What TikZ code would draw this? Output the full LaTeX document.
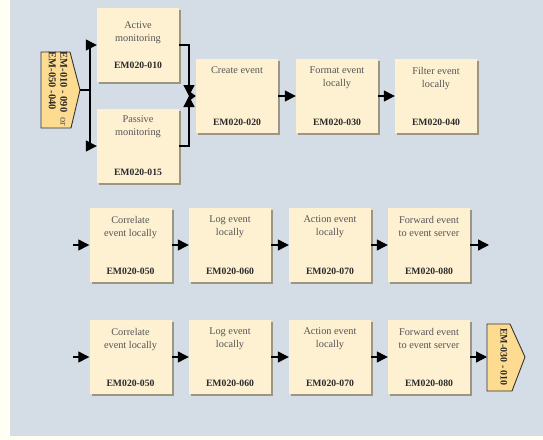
\documentclass[tikz,border=0pt]{standalone}
\usepackage{fontspec}
\setmainfont{Liberation Serif}
\usetikzlibrary{arrows.meta,shadows}
\definecolor{bg}{HTML}{D4DCE6}
\definecolor{cream}{HTML}{FFFFF4}
\definecolor{boxfill}{HTML}{FEF1D2}
\definecolor{shadowc}{HTML}{9C9580}
\definecolor{pent}{HTML}{FDDC92}
\definecolor{txtgray}{HTML}{555555}
\definecolor{codec}{HTML}{2B2B2B}
\begin{document}
\begin{tikzpicture}[x=1pt,y=-1pt,
  box/.style={rectangle, fill=boxfill, minimum width=82pt, minimum height=74pt, inner sep=0pt,
    drop shadow={shadow xshift=2pt, shadow yshift=-2pt, fill=shadowc, opacity=1}},
  ttl/.style={font=\fontsize{10.3}{13}\selectfont, text=txtgray, align=center, anchor=north, inner sep=0pt},
  code/.style={font=\fontsize{9.7}{11}\selectfont\bfseries, text=codec, inner sep=0pt},
  pentst/.style={draw=black!80, fill=pent, line width=0.9pt, line join=miter},
  pentxt/.style={font=\fontsize{10}{11}\selectfont\bfseries, text=codec, inner sep=0pt, rotate=-90},
  ln/.style={draw=black, line width=1.3pt},
  arr/.style={ln, -{Triangle[length=11pt,width=11pt]}},
  arrs/.style={ln, -{Triangle[length=7pt,width=10pt]}}]
\useasboundingbox (0,0) rectangle (543,439);
\fill[cream] (0,0) rectangle (543,439);
\fill[bg] (10,0) rectangle (543,436);

% row 1
\node[box] (A) at (138,45) {};
\node[box] (P) at (138,146) {};
\node[box] (C) at (237,96) {};
\node[box] (F) at (337,96) {};
\node[box] (L) at (436,96) {};
\path (A.north) ++(0,14) node[ttl] (At) {Active\\monitoring};
\path (A.south) ++(0,-17) node[code] (Ac) {EM020-010};
\path (P.north) ++(0,7) node[ttl] (Pt) {Passive\\monitoring};
\path (P.south) ++(0,-11) node[code] (Pc) {EM020-015};
\path (C.north) ++(0,8) node[ttl] (Ct) {Create event};
\path (C.south) ++(0,-11) node[code] (Cc) {EM020-020};
\path (F.north) ++(0,8) node[ttl] (Ft) {Format event\\locally};
\path (F.south) ++(0,-11) node[code] (Fc) {EM020-030};
\path (L.north) ++(0,8) node[ttl] (Lt) {Filter event\\locally};
\path (L.south) ++(0,-11) node[code] (Lc) {EM020-040};

% left pentagon
\draw[pentst] (41,52) -- (70,52) -- (80,90) -- (71,128) -- (41,128) -- cycle;
\coordinate (s) at (80,90);
\node[pentxt, align=left, font=\fontsize{10.5}{11.5}\selectfont\bfseries] (st) at (58,89) {EM-010 - 090\hspace{5pt}\textmd{\textcolor{txtgray}{or}}\\EM-050 -040};
\coordinate (j) at (90,90);
\draw[ln] (s) -- (j);
\draw[arr] (j) |- (A.west);
\draw[arr] (j) |- (P.west);
\coordinate (m) at (189,96);
\draw[arr] (A.east) -| (m);
\draw[arr] (P.east) -| (m);
\draw[arrs] (m) -- (C.west);
\draw[arr] (C.east) -- (F.west);
\draw[arr] (F.east) -- (L.west);

% row 2
\node[box] (B1) at (130.5,245) {};
\node[box] (B2) at (230,245) {};
\node[box] (B3) at (330,245) {};
\node[box] (B4) at (429,245) {};
\path (B1.north) ++(0,8) node[ttl] (B1t) {Correlate\\event locally};
\path (B1.south) ++(0,-11) node[code] (B1c) {EM020-050};
\path (B2.north) ++(0,8) node[ttl] (B2t) {Log event\\locally};
\path (B2.south) ++(0,-11) node[code] (B2c) {EM020-060};
\path (B3.north) ++(0,8) node[ttl] (B3t) {Action event\\locally};
\path (B3.south) ++(0,-11) node[code] (B3c) {EM020-070};
\path (B4.north) ++(0,8) node[ttl] (B4t) {Forward event\\to event server};
\path (B4.south) ++(0,-11) node[code] (B4c) {EM020-080};
\coordinate (r2in) at (73,245);
\coordinate (r2out) at (489,245);
\draw[arr] (r2in) -- (B1.west);
\draw[arr] (B1.east) -- (B2.west);
\draw[arr] (B2.east) -- (B3.west);
\draw[arr] (B3.east) -- (B4.west);
\draw[arr] (B4.east) -- (r2out);

% row 3
\node[box] (D1) at (130.5,357) {};
\node[box] (D2) at (230,357) {};
\node[box] (D3) at (330,357) {};
\node[box] (D4) at (429,357) {};
\path (D1.north) ++(0,8) node[ttl] (D1t) {Correlate\\event locally};
\path (D1.south) ++(0,-11) node[code] (D1c) {EM020-050};
\path (D2.north) ++(0,8) node[ttl] (D2t) {Log event\\locally};
\path (D2.south) ++(0,-11) node[code] (D2c) {EM020-060};
\path (D3.north) ++(0,8) node[ttl] (D3t) {Action event\\locally};
\path (D3.south) ++(0,-11) node[code] (D3c) {EM020-070};
\path (D4.north) ++(0,8) node[ttl] (D4t) {Forward event\\to event server};
\path (D4.south) ++(0,-11) node[code] (D4c) {EM020-080};
\coordinate (r3in) at (73,357);
\draw[pentst] (487,324) -- (510,324) -- (525,357) -- (512,391) -- (487,391) -- cycle;
\coordinate (e) at (487,357);
\node[pentxt] (et) at (504,357) {EM-030 - 010};
\draw[arr] (r3in) -- (D1.west);
\draw[arr] (D1.east) -- (D2.west);
\draw[arr] (D2.east) -- (D3.west);
\draw[arr] (D3.east) -- (D4.west);
\draw[arr] (D4.east) -- (e);
\end{tikzpicture}
\end{document}
